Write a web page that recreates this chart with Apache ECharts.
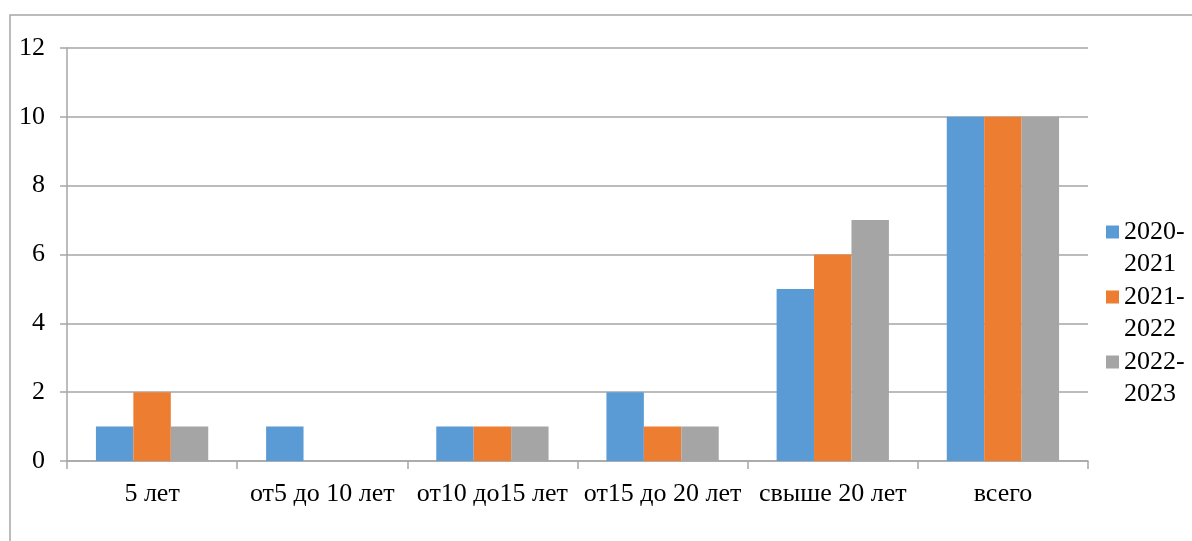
<!DOCTYPE html>
<html>
<head>
<meta charset="utf-8">
<script src="https://cdn.jsdelivr.net/npm/echarts@6/dist/echarts.min.js"></script>
<style>html,body{margin:0;padding:0;background:#fff;}#c{width:1192px;height:541px;}</style>
</head>
<body>
<div id="c"></div>
<script>
const categories = ['5 лет', 'от5 до 10 лет', 'от10 до15 лет', 'от15 до 20 лет', 'свыше 20 лет', 'всего'];
const seriesNames = ['2020-2021', '2021-2022', '2022-2023'];
const s2020 = [1, 1, 1, 2, 5, 10];
const s2021 = [2, 0, 1, 1, 6, 10];
const s2022 = [1, 0, 1, 1, 7, 10];
const colors = ['#5B9BD5', '#ED7D31', '#A5A5A5'];

const FONT = "'Liberation Serif', 'Times New Roman', serif";
const chart = echarts.init(document.getElementById('c'));
const values = [s2020, s2021, s2022];
chart.setOption({
  animation: false,
  color: colors,
  graphic: [{
    type: 'rect', silent: true, z: -1,
    shape: { x: 10, y: 15, width: 1300, height: 700 },
    style: { fill: 'none', stroke: '#a6a6a6', lineWidth: 1.5 }
  }],
  grid: { left: 67, right: 104, top: 48, bottom: 80 },
  legend: {
    orient: 'vertical',
    left: 1101,
    top: 179,
    itemWidth: 13,
    itemHeight: 13,
    itemGap: -31,
    icon: 'rect',
    data: seriesNames,
    formatter: n => ' \n' + n.replace('-', '-\n'),
    textStyle: { fontFamily: FONT, fontSize: 26, color: '#000', lineHeight: 32 }
  },
  xAxis: {
    type: 'category',
    data: categories,
    axisLine: { lineStyle: { color: '#a6a6a6', width: 1.5 } },
    axisTick: { show: true, length: 8, lineStyle: { color: '#a6a6a6', width: 1.5 } },
    axisLabel: { fontFamily: FONT, fontSize: 26, color: '#000', margin: 20, interval: 0 }
  },
  yAxis: {
    type: 'value',
    min: 0, max: 12, interval: 2,
    axisLine: { show: true, lineStyle: { color: '#a6a6a6', width: 1.5 } },
    axisTick: { show: true, length: 7, lineStyle: { color: '#a6a6a6', width: 1.5 } },
    splitLine: { lineStyle: { color: '#a6a6a6', width: 1.5 } },
    axisLabel: { fontFamily: FONT, fontSize: 26, color: '#000', margin: 22 }
  },
  series: seriesNames.map((n, i) => ({
    name: n,
    type: 'bar',
    data: values[i],
    barGap: '0%',
    barCategoryGap: '34%',
    itemStyle: { color: colors[i] }
  }))
});
</script>
</body>
</html>
